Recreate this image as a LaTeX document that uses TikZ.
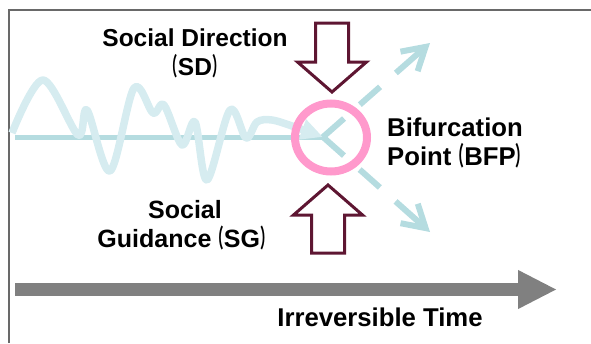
\documentclass[tikz,border=0pt]{standalone}
\usepackage{fontspec}
\usepackage{graphicx}
\setmainfont{Liberation Sans}
\newfontfamily\cjk{Noto Sans CJK JP}
\usetikzlibrary{arrows.meta}
\definecolor{tealline}{RGB}{181,220,224}
\definecolor{wavec}{RGB}{214,236,240}
\definecolor{pinkc}{RGB}{255,153,204}
\definecolor{maroon}{RGB}{94,22,50}
\definecolor{framec}{RGB}{105,105,105}
\definecolor{timec}{RGB}{128,128,128}
\newcommand\lpar{\scalebox{0.5}[1]{\cjk （}}
\newcommand\rpar{\scalebox{0.5}[1]{\cjk ）}}
\tikzset{
  lbl/.style={font=\fontsize{#1}{29}\selectfont\bfseries, inner sep=0pt, align=center},
  lbl/.default=25.7,
  branch/.style={tealline, line width=6pt, dash pattern=on 28pt off 21pt on 27pt off 21pt on 200pt,
     -{Straight Barb[length=22pt,width=26pt,line width=6pt]}},
  blockarrow/.style={draw=maroon, line width=3pt, fill=white, line join=miter},
}
\begin{document}
\begin{tikzpicture}[x=1pt,y=-1pt]
\useasboundingbox (0,0) rectangle (591,343);
% frame
\draw[framec, line width=1.5pt] (9,343) -- (9,10) -- (591,10);
% coordinates
\coordinate (bfp) at (323,137);
\coordinate (lstart) at (15,137);
\coordinate (upend) at (430,43);
\coordinate (dnend) at (430,232);
\coordinate (tstart) at (15,289.5);
\coordinate (tend) at (557,289.5);
% baseline
\draw[tealline, line width=5pt] (lstart) -- (bfp);
% wave
\draw[wavec, line width=7.5pt, line join=round, -{Triangle[length=22pt,width=20pt]}]
  plot[smooth, tension=0.55] coordinates {(12,133) (43,80) (78,135) (87,110) (110,171) (134,88)
   (153,113) (164,105) (182,145) (195,122) (207,180) (230,110) (246,138) (257,122) (272,120) (295,127) (323,137)};
% branches
\draw[branch] (bfp) -- (upend);
\draw[branch] (bfp) -- (dnend);
% circle
\draw[pinkc, line width=8pt] (331,137.5) ellipse [x radius=36, y radius=34];
% block arrows
\draw[blockarrow] (315.5,23) -- (348.5,23) -- (348.5,62) -- (366.5,62) -- (332,92) -- (297.5,62) -- (315.5,62) -- cycle;
\draw[blockarrow] (311.5,253) -- (344.5,253) -- (344.5,215) -- (362.5,215) -- (328,185) -- (293.5,215) -- (311.5,215) -- cycle;
% time arrow
\draw[timec, line width=13pt, -{Triangle[length=39pt,width=36pt]}] (tstart) -- (tend);
% labels
\node[lbl=24.5, anchor=base] (sd) at (195,75) {Social Direction\\\lpar SD\rpar};
\node[lbl=25, anchor=base] (sg) at (185,247) {Social\\Guidance\lpar SG\rpar};
\node[lbl, anchor=base west, align=left] (bp) at (387,165) {Bifurcation\\Point\lpar BFP\rpar};
\node[lbl, anchor=base] (it) at (380,326) {Irreversible Time};
\end{tikzpicture}
\end{document}
